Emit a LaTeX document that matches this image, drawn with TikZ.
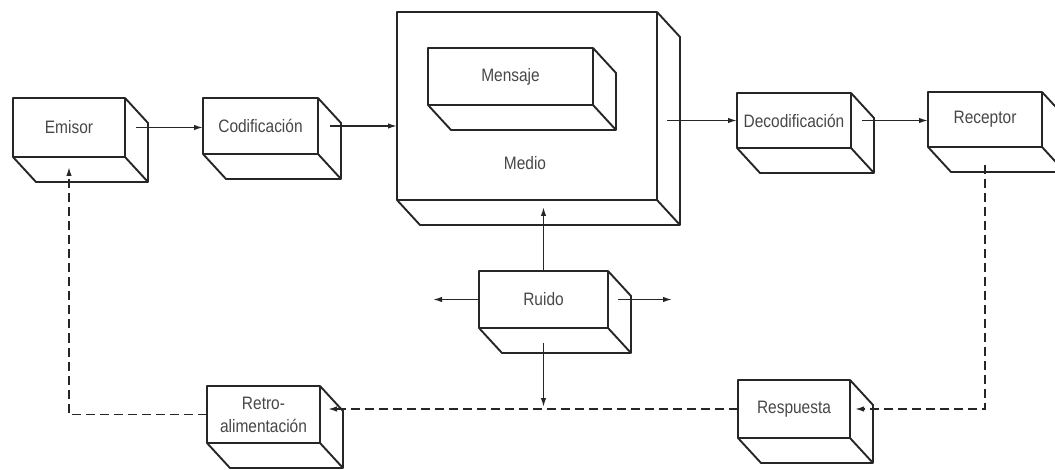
\documentclass[tikz,border=0pt]{standalone}
\usepackage{fontspec}
\setmainfont{Liberation Sans}[FakeStretch=0.86]
\usetikzlibrary{arrows.meta,calc}
\definecolor{ink}{gray}{0.15}
\definecolor{txt}{gray}{0.28}

\begin{document}
\begin{tikzpicture}[x=1pt,y=-1pt,
  box/.style={draw=ink, line width=1.9pt, line join=round, outer sep=0pt,
    inner sep=0pt, text=txt, font=\fontsize{18}{23}\selectfont, align=center,
    minimum width=#1},
  box/.default=114,
  lbl/.style={text=txt, font=\fontsize{18}{23}\selectfont, inner sep=0pt},
  depth/.style={draw=ink, line width=1.9pt, line join=round},
  flow/.style={draw=ink, line width=1.5pt, -{Latex[length=9pt,width=5.5pt]}},
  fb/.style={flow, dash pattern=on 9pt off 5pt}]

\useasboundingbox (0,0) rectangle (1055,470);

% front faces of the boxes
\node[box=112, minimum height=59] (emisor)   at (69,127.5)   {Emisor};
\node[box=115, minimum height=56] (codif)    at (260.5,126)  {Codificación};
\node[box=260, minimum height=188] (medio)   at (527,106)    {};
\node[box=165, minimum height=57] (mensaje)  at (510.5,76.5) {Mensaje};
\node[lbl] (mediolbl) at (525,163) {Medio};
\node[box=114, minimum height=55] (decod)    at (794,120.5)  {Decodificación};
\node[box=114, minimum height=55] (receptor) at (985,119.5)  {Receptor};
\node[box=129, minimum height=57] (ruido)    at (543.5,299.5) {Ruido};
\node[box=113, minimum height=57] (retro)    at (263.5,414.5) {Retro-\\alimentación};
\node[box=112, minimum height=58] (resp)     at (794,409)    {Respuesta};

% receding edges giving each box its depth
\foreach \n in {emisor,codif,medio,mensaje,decod,receptor,ruido,retro,resp}{
  \draw[depth] (\n.north east) -- ++(23,25) -- ($(\n.south east)+(23,25)$)
    -- ($(\n.south west)+(23,25)$) -- (\n.south west)
    (\n.south east) -- ++(23,25);
}

% main chain
\draw[flow] ($(emisor.east)+(11,0)$) -- (emisor.east -| codif.west);
\draw[flow] ($(codif.east)+(12,0)$) -- (codif.east -| medio.west);
\draw[flow] ($(decod.west -| medio.east)+(10,0)$) -- (decod.west);
\draw[flow] ($(decod.east)+(11,0)$) -- (decod.east -| receptor.west);

% noise
\coordinate (noiseL) at ($(ruido.west)+(-46,0)$);
\coordinate (noiseR) at ($(ruido.east)+(64,0)$);
\coordinate (noiseD) at ($(ruido.south)+(0,79)$);
\draw[flow] (ruido.north) -- ($(medio.south -| ruido.north)+(0,7)$);
\draw[flow] (ruido.west) -- (noiseL);
\draw[flow] ($(ruido.east)+(10,0)$) -- (noiseR);
\draw[flow] ($(ruido.south)+(0,15)$) -- (noiseD);

% feedback loop
\draw[fb] ($(receptor.south)+(0,18)$) |- ($(resp.east)+(5,0)$);
\draw[fb] (resp.west) -- ($(resp.west -| retro.east)+(8,0)$);
\draw[fb] (retro.west) -| ($(emisor.south)+(0,10)$);
\end{tikzpicture}
\end{document}
